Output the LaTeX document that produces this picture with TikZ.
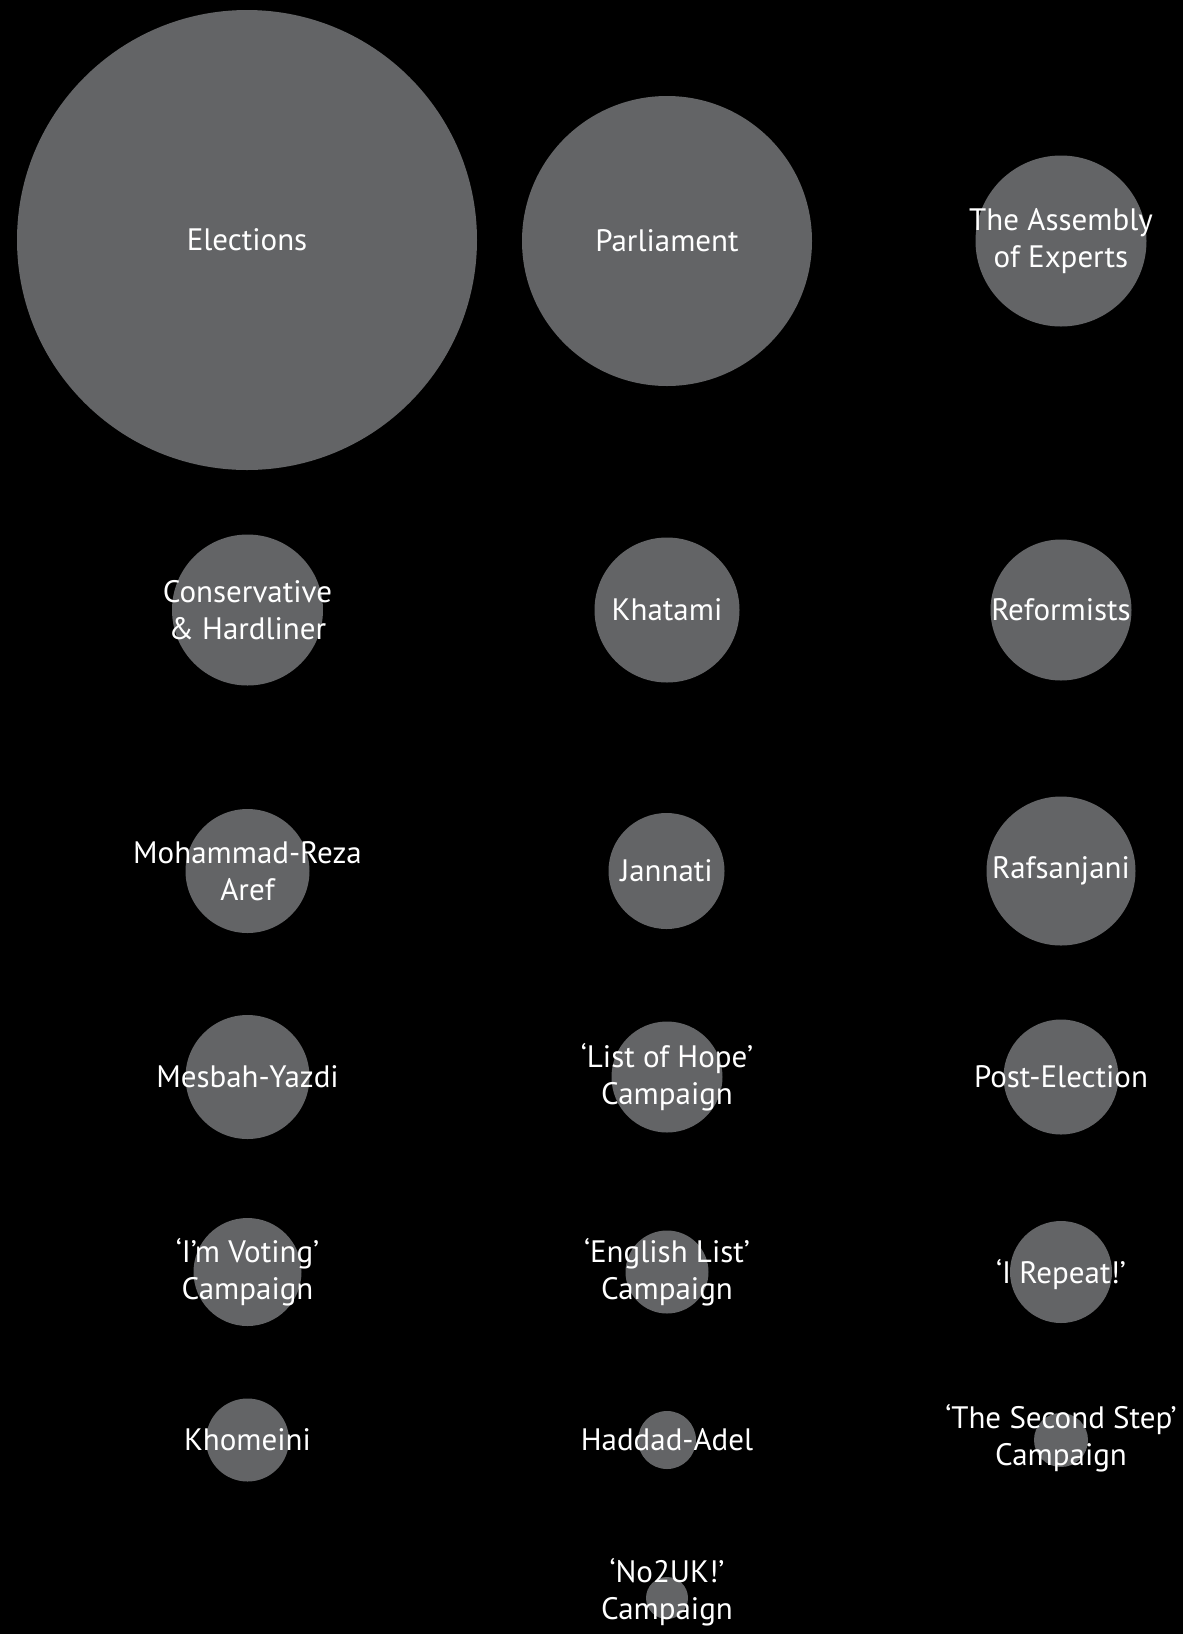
\documentclass[tikz,border=0pt]{standalone}
\usepackage{fontspec}
\setmainfont{PT Sans}
\definecolor{bubblegrey}{HTML}{636466}
\tikzset{
  bubble/.style={circle, fill=bubblegrey, inner sep=0pt, minimum size=#1},
  lbl/.style={text=white, align=center, inner sep=0pt, font=\fontsize{31}{37}\selectfont}
}
\begin{document}
\begin{tikzpicture}[x=1pt,y=-1pt]
\fill[black] (0,0) rectangle (1183,1634);
\useasboundingbox (0,0) rectangle (1183,1634);
% row 1
\node[bubble=460pt] (elec) at (247,240) {};
\node[bubble=290pt] (parl) at (667,241) {};
\node[bubble=171pt] (assem) at (1061,241) {};
% row 2
\node[bubble=151pt] (cons) at (247.5,610) {};
\node[bubble=145pt] (khat) at (667,610) {};
\node[bubble=141pt] (ref) at (1061,610) {};
% row 3
\node[bubble=124pt] (aref) at (247.5,871) {};
\node[bubble=116pt] (jann) at (666.5,871) {};
\node[bubble=149pt] (raf) at (1061,871) {};
% row 4
\node[bubble=124pt] (mesb) at (247.5,1077) {};
\node[bubble=111pt] (hope) at (667,1077) {};
\node[bubble=115pt] (post) at (1061,1077) {};
% row 5
\node[bubble=108pt] (vote) at (247.5,1272) {};
\node[bubble=83pt] (eng) at (667,1272) {};
\node[bubble=102pt] (rep) at (1061,1272) {};
% row 6
\node[bubble=83pt] (khom) at (247.5,1440) {};
\node[bubble=58pt] (hadd) at (667,1440) {};
\node[bubble=54pt] (step2) at (1061,1440) {};
% row 7
\node[bubble=42pt] (no2uk) at (667,1598) {};
% labels
\node[lbl] at (elec) {Elections};
\node[lbl] at (parl) {Parliament};
\node[lbl] at (assem) {The Assembly\\of Experts};
\node[lbl] at (cons) {Conservative\\\& Hardliner};
\node[lbl] at (khat) {Khatami};
\node[lbl] at (ref) {Reformists};
\node[lbl] at (aref) {Mohammad-Reza\\Aref};
\node[lbl] at (jann) {Jannati};
\node[lbl] at (raf) {Rafsanjani};
\node[lbl] at (mesb) {Mesbah-Yazdi};
\node[lbl] at (hope) {‘List of Hope’\\Campaign};
\node[lbl] at (post) {Post-Election};
\node[lbl] at (vote) {‘I’m Voting’\\Campaign};
\node[lbl] at (eng) {‘English List’\\Campaign};
\node[lbl] at ([yshift=-3pt]rep.center) {‘I Repeat!’};
\node[lbl] at (khom) {Khomeini};
\node[lbl] at (hadd) {Haddad-Adel};
\node[lbl] at ([yshift=2pt]step2.center) {‘The Second Step’\\Campaign};
\node[lbl] at ([yshift=6pt]no2uk.center) {‘No2UK!’\\Campaign};
\end{tikzpicture}
\end{document}
